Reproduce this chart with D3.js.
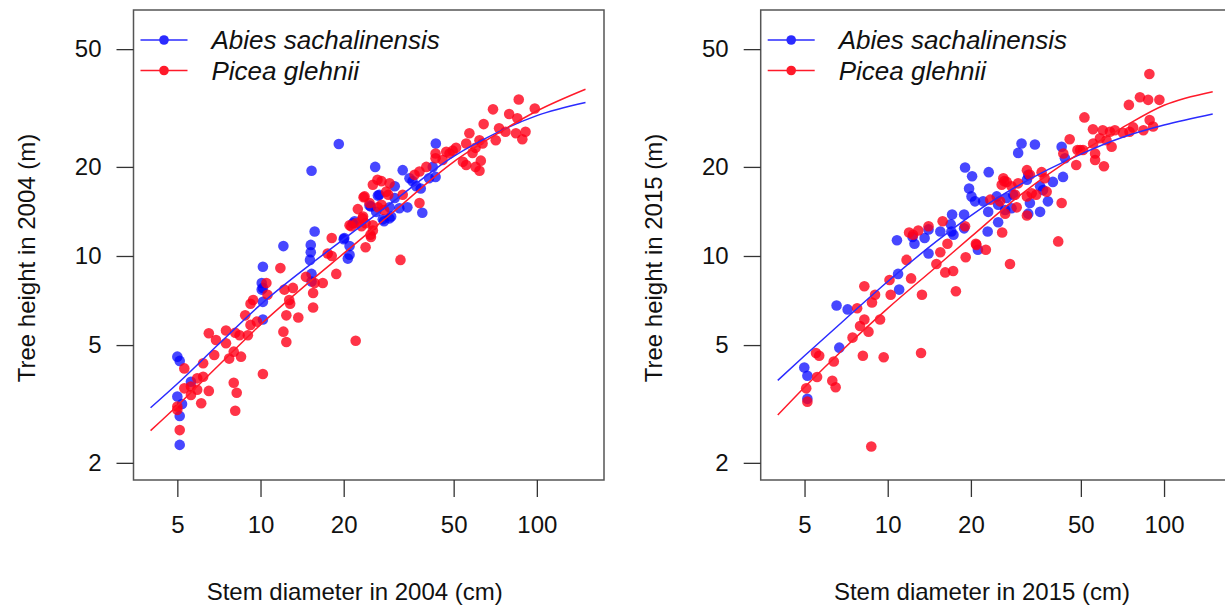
<!DOCTYPE html>
<html>
<head>
<meta charset="utf-8">
<script src="https://cdn.jsdelivr.net/npm/d3@7"></script>
<style>
  body { margin: 0; background: #fff; }
  svg { display: block; font-family: "Liberation Sans", Arial, sans-serif; }
</style>
</head>
<body>
<svg id="chart" width="1225" height="607"></svg>
<script>
// tick labels
const xTicks = [5, 10, 20, 50, 100];
const yTicks = [2, 5, 10, 20, 50];
const species = ["Abies sachalinensis", "Picea glehnii"];

// [stem diameter (cm), tree height (m)]
const abies2004 = [
  [5.0,4.57],[5.1,4.42],[5.6,3.76],[5.0,3.35],[5.2,3.16],[5.1,2.88],[5.1,2.3],
  [10.2,9.2],[10.1,8.1],[10.2,7.8],[10.1,7.7],[10.2,7.0],[10.2,6.1],[12.1,10.8],
  [15.3,19.4],[15.7,12.1],[15.2,10.9],[15.2,10.3],[15.1,9.7],[15.3,8.7],[15.3,8.2],
  [19.2,23.9],[26,20],[26.6,16],[25.1,14.7],[21.9,13.1],[20.1,11.5],[21,10.8],
  [21,10.1],[20.7,9.8],[21.6,12.9],[20,11.4],[43.1,24.0],[42,20],[43,18.5],
  [40.7,18.3],[32.7,19.5],[34.6,18.3],[35.5,17.9],[38,16.9],[38.5,14.0],[30.6,17.2],
  [26.9,16.1],[30.6,15.7],[24.8,14.8],[29.3,14.6],[31.8,14.5],[34,14.6],[28,13.1],
  [29.7,13.6],[36.6,17.2],[26.2,14.1],[27.7,13.3],[29.3,13.4]
];
const picea2004 = [
  [5.0,3.1],[5.0,3.02],[5.1,2.58],[5.3,4.17],[5.9,3.86],[6.2,3.91],[5.3,3.57],
  [5.6,3.62],[6.5,3.5],[5.9,3.53],[5.6,3.39],[6.1,3.18],[6.2,4.34],[6.8,4.63],
  [7.7,4.5],[8.5,4.57],[8.0,4.75],[7.5,5.07],[7.5,5.6],[8.1,5.5],[6.5,5.48],
  [6.9,5.2],[8.4,5.4],[9.0,5.4],[8.0,3.73],[8.2,3.45],[8.1,3.0],[10.2,3.99],
  [8.8,6.3],[9.7,6.0],[9.2,5.85],[9.2,6.9],[9.4,7.1],[10.6,7.4],[10.5,8.1],
  [12.2,7.7],[13.1,7.8],[12.7,7.1],[12.8,6.9],[12.4,6.3],[13.7,6.2],[12.1,5.55],
  [12.4,5.12],[11.8,9.1],[15.5,7.5],[15.5,6.7],[15.7,8.1],[16.8,8.1],[14.6,8.5],
  [18.8,8.7],[17.5,10.2],[18.1,11.5],[18.1,10.0],[22.1,5.17],[32.1,9.7],
  [25.5,17.4],[26.5,18.1],[27.4,17.9],[29.3,17.6],[23.6,15.8],[22.5,14.4],
  [23.4,13.4],[21.3,12.6],[25.5,12.7],[24,10.7],[23.8,15.9],[29,16.1],[32.7,16.1],
  [26.6,14.6],[28,14.3],[23.5,13.6],[21,12.7],[23.2,12.6],[25.5,12.2],[25,11.8],
  [22.2,12.9],[24,12.9],[25.1,11.6],[24.8,15.1],[27.4,14.9],[37.6,15.1],[28.5,16.5],
  [39.8,20],[37.6,19.3],[36.1,18.8],[43,22.2],[43,21.4],[45.6,21.1],[51,23.2],
  [49.6,22.7],[47,22.5],[48.3,22.2],[55.5,24],[60,23.2],[58.5,22.3],[62,24.6],
  [63.6,24],[57,26],[64.2,27.9],[54,20.8],[55.5,20.3],[60,20],[62.7,21],[62,19.4],
  [73,27],[77,26.3],[71,24.6],[84,26],[91,26.3],[88.6,24.8],[79.4,30.2],[85,29.2],
  [69.4,31.3],[98.3,31.5],[86,33.8]
];
const abies2015 = [
  [4.99,4.2],[5.12,3.94],[5.12,3.29],[6.53,6.8],[7.16,6.6],[6.68,4.9],[10.9,8.7],
  [11.0,7.7],[10.8,11.3],[12.5,11.0],[12.3,11.6],[13.6,11.5],[14.05,12.3],[14.05,10.2],
  [15.5,12.1],[16.9,12.8],[17.0,12.1],[17.3,11.8],[17.1,13.8],[18.9,13.8],[18.9,12.4],
  [19.05,19.9],[20.2,18.6],[23.2,19.2],[19.7,16.9],[20.1,15.9],[20.7,15.3],[22.15,15.3],
  [21.2,10.5],[25.1,14.9],[26.95,15.7],[23.1,14.1],[25.1,13.0],[23.0,12.1],[24.8,15.9],
  [28.45,16.1],[28.05,14.5],[26.6,14.3],[30.5,24.0],[29.65,22.3],[34.1,23.8],
  [32.25,18.8],[31.9,18.1],[35.6,17.2],[36.5,16.7],[39.6,17.8],[38.0,15.3],[32.7,15.1],
  [35.6,14.1],[32.25,13.9],[42.6,23.4],[43.8,21.4],[43.1,18.5]
];
const picea2015 = [
  [5.12,3.22],[5.07,3.57],[5.5,4.7],[5.65,4.6],[5.55,3.9],[6.3,3.79],[6.48,3.6],
  [6.38,4.4],[7.46,5.3],[7.75,6.66],[8.23,6.1],[7.94,5.8],[8.52,5.55],[9.38,6.1],
  [8.13,4.6],[9.67,4.55],[13.2,4.7],[8.72,2.27],[8.77,6.96],[8.23,7.9],[9.0,7.4],
  [10.25,7.4],[10.15,8.3],[13.3,7.4],[17.65,7.6],[11.7,9.7],[12.15,8.4],[15.0,9.4],
  [16.15,8.8],[17.25,8.9],[19.15,9.9],[20.95,10.9],[22.65,10.5],[27.7,9.4],[16.45,11.0],
  [15.5,10.3],[11.95,12.0],[12.35,11.8],[12.9,12.2],[14.05,12.6],[15.8,13.1],[19.05,12.6],
  [26.4,17.9],[25.85,17.4],[23.5,15.5],[26.6,13.9],[25.95,12.0],[26.2,18.3],[26.95,17.8],
  [28.05,17.2],[29.65,17.6],[31.9,19.5],[32.7,18.8],[36.05,19.2],[37.0,18.3],[37.6,16.5],
  [42.6,15.1],[28.9,16.1],[29.3,14.6],[31.9,15.9],[33.2,16.3],[34.45,16.1],[31.9,13.7],
  [25.5,15.3],[41.4,11.2],[43.2,22.2],[45.55,24.8],[48.6,22.8],[49.7,22.8],[50.9,22.8],
  [48.1,20.3],[51.5,29.4],[55.3,26.8],[60.0,26.6],[63.7,26.3],[66.4,26.6],[71.0,26.1],
  [77.3,27.2],[75.0,26.3],[58.6,25],[55.4,24],[61.9,24.6],[64.6,23.4],[56.3,22.2],
  [56.3,21.1],[60.6,20.1],[74.6,32.4],[81.8,34.4],[87.6,33.7],[96.2,33.7],[88.7,28.8],
  [91.3,27.4],[84.2,26.6],[88.5,41.2],[20.85,11.0]
];

// fitted curves, read at a few diameters
const abiesFit2004 = [[4,3.07],[5,3.7],[7,5.0],[10,6.85],[15,9.3],[20,11.4],[30,15.2],[50,21.7],[70,25.8],[100,29.8],[150,33.0]];
const piceaFit2004 = [[4,2.57],[5,3.12],[7,4.24],[10,5.86],[15,8.16],[20,10.2],[30,14.0],[50,20.8],[70,25.5],[100,30.9],[150,36.6]];
const abiesFit2015 = [[4,3.8],[5,4.6],[7,6.1],[10,8.2],[15,11.2],[20,13.7],[30,17.4],[50,22.1],[70,25.1],[100,27.7],[150,30.2]];
const piceaFit2015 = [[4,2.9],[5,3.6],[7,4.9],[10,6.65],[15,9.2],[20,11.6],[30,16.0],[50,22.4],[70,27.0],[100,32.3],[150,35.9]];

const blueCol = "rgba(0,0,255,0.72)";
const redCol = "rgba(255,0,25,0.8)";
const blueLine = "#2b2bff";
const redLine = "#ff1a2a";

const svg = d3.select("#chart");

const panels = [
  { year: 2004, x0: 133.5, x1: 604, abies: abies2004, picea: picea2004, abiesFit: abiesFit2004, piceaFit: piceaFit2004 },
  { year: 2015, x0: 760.7, x1: 1231.2, abies: abies2015, picea: picea2015, abiesFit: abiesFit2015, piceaFit: piceaFit2015 }
];

const plotTop = 10, plotBottom = 480;
const y = d3.scaleLog().domain([1.75, 67.8]).range([plotBottom, plotTop]);

panels.forEach(function (p) {
  const x = d3.scaleLog().domain([3.47, 175]).range([p.x0, p.x1]);
  const g = svg.append("g");

  // points
  g.selectAll(".ab").data(p.abies).enter().append("circle")
    .attr("cx", d => x(d[0])).attr("cy", d => y(d[1]))
    .attr("r", 5.3).attr("fill", blueCol);
  g.selectAll(".pi").data(p.picea).enter().append("circle")
    .attr("cx", d => x(d[0])).attr("cy", d => y(d[1]))
    .attr("r", 5.3).attr("fill", redCol);

  // fitted lines
  const line = d3.line().x(d => x(d[0])).y(d => y(d[1])).curve(d3.curveMonotoneX);
  g.append("path").attr("d", line(p.abiesFit)).attr("fill", "none")
    .attr("stroke", blueLine).attr("stroke-width", 1.5);
  g.append("path").attr("d", line(p.piceaFit)).attr("fill", "none")
    .attr("stroke", redLine).attr("stroke-width", 1.5);

  // box
  g.append("rect").attr("x", p.x0).attr("y", plotTop)
    .attr("width", p.x1 - p.x0).attr("height", plotBottom - plotTop)
    .attr("fill", "none").attr("stroke", "#555").attr("stroke-width", 1.5);

  // axes
  const xAxis = d3.axisBottom(x).tickValues(xTicks).tickFormat(d3.format("d"))
    .tickSizeOuter(0).tickSizeInner(17).tickPadding(19);
  g.append("g").attr("transform", "translate(0," + plotBottom + ")").call(xAxis)
    .call(a => a.select(".domain").remove());

  const yAxis = d3.axisLeft(y).tickValues(yTicks).tickFormat(d3.format("d"))
    .tickSizeOuter(0).tickSizeInner(17).tickPadding(15);
  g.append("g").attr("transform", "translate(" + p.x0 + ",0)").call(yAxis)
    .call(a => a.select(".domain").remove());

  g.selectAll(".tick line").attr("stroke", "#333").attr("stroke-width", 1.3);
  g.selectAll(".tick text").attr("font-size", 24).attr("fill", "#111")
    .attr("font-family", "Liberation Sans, Arial, sans-serif");

  // axis titles
  g.append("text").attr("x", (p.x0 + p.x1) / 2 - 14).attr("y", 600)
    .attr("text-anchor", "middle").attr("font-size", 24).attr("fill", "#111")
    .text("Stem diameter in " + p.year + " (cm)");
  g.append("text")
    .attr("transform", "translate(" + (p.x0 - 99) + "," + ((plotTop + plotBottom) / 2 + 13) + ") rotate(-90)")
    .attr("text-anchor", "middle").attr("font-size", 24).attr("fill", "#111")
    .text("Tree height in " + p.year + " (m)");

  // legend
  const lg = g.append("g").attr("transform", "translate(" + (p.x0 + 7) + ",40)");
  [blueLine, redLine].forEach(function (c, i) {
    const row = lg.append("g").attr("transform", "translate(0," + (i * 30.5) + ")");
    row.append("line").attr("x1", 0).attr("x2", 47).attr("y1", 0).attr("y2", 0)
      .attr("stroke", c).attr("stroke-width", 1.3);
    row.append("circle").attr("cx", 23.5).attr("cy", 0).attr("r", 4.8).attr("fill", c);
    row.append("text").attr("x", 71).attr("y", 9).attr("font-size", 26)
      .attr("font-style", "italic").attr("fill", "#111").text(species[i]);
  });
});
</script>
</body>
</html>
